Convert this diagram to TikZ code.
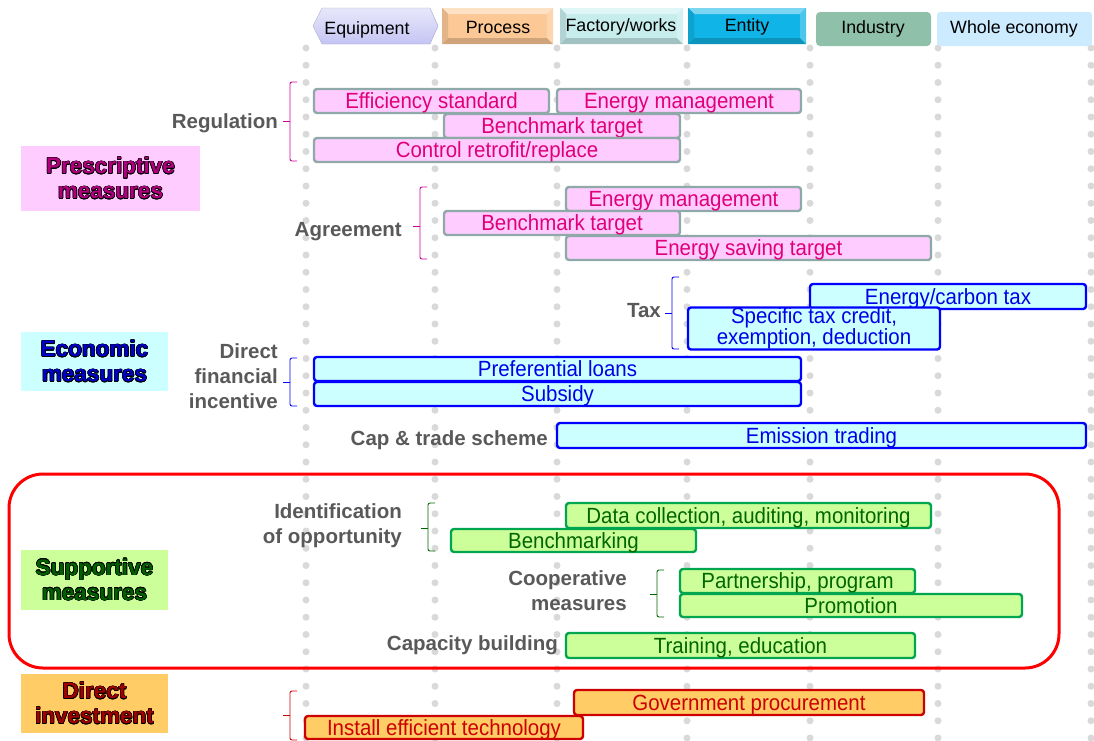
\documentclass[tikz,border=0pt]{standalone}
\usepackage{fontspec}
\setmainfont{Liberation Sans}
\newfontfamily\barfont{Liberation Sans}[FakeStretch=0.93]
\usepackage[copies]{contour}
\contourlength{0.6pt}
\usetikzlibrary{calc}
\definecolor{dotgray}{HTML}{D9D9D9}
\definecolor{labgray}{HTML}{595959}
\definecolor{pinkfill}{HTML}{FFCCFF}
\definecolor{pinkdraw}{HTML}{8FA9A9}
\definecolor{pinktext}{HTML}{E0007A}
\definecolor{bluefill}{HTML}{CCFFFF}
\definecolor{bluedraw}{HTML}{0000FF}
\definecolor{bluetext}{HTML}{0000E6}
\definecolor{greenfill}{HTML}{CCFF99}
\definecolor{greendraw}{HTML}{00A550}
\definecolor{greentext}{HTML}{006600}
\definecolor{orangefill}{HTML}{FFCC66}
\definecolor{orangedraw}{HTML}{CC0000}
\definecolor{orangetext}{HTML}{CC0000}
\definecolor{catmag}{HTML}{B0007E}
\definecolor{catblue}{HTML}{0000C8}
\definecolor{catgreen}{HTML}{006000}
\definecolor{catred}{HTML}{A00000}
\definecolor{lav}{HTML}{C4C4F4}
\definecolor{peach}{HTML}{FCC896}
\definecolor{paleteal}{HTML}{C6ECEC}
\definecolor{entcyan}{HTML}{10B4E6}
\definecolor{indgreen}{HTML}{8FC0A9}
\definecolor{wholeblue}{HTML}{CCEBFF}
\definecolor{bracemag}{HTML}{CC0099}
\definecolor{braceblue}{HTML}{0000FF}
\definecolor{bracegreen}{HTML}{006600}
\definecolor{bracered}{HTML}{CC0000}
\definecolor{redframe}{HTML}{FF0000}
\tikzset{
  barcore/.style={rectangle, rounded corners=3pt, line width=2.4pt, inner sep=0pt, align=center,
    font=\barfont\fontsize{22}{14}\selectfont},
  barbase/.style={barcore, text height=15.8pt, text depth=0pt},
  pinkbar/.style={barbase, fill=pinkfill, draw=pinkdraw, text=pinktext},
  bluebar/.style={barbase, fill=bluefill, draw=bluedraw, text=bluetext},
  bluebartwo/.style={barcore, fill=bluefill, draw=bluedraw, text=bluetext},
  greenbar/.style={barbase, fill=greenfill, draw=greendraw, text=greentext},
  orangebar/.style={barbase, fill=orangefill, draw=orangedraw, text=orangetext},
  lab/.style={font=\fontsize{20.5}{25}\selectfont\bfseries, text=labgray, align=right, anchor=east, inner sep=0pt},
  labone/.style={lab, text height=14.7pt, text depth=0pt},
  cat/.style={font=\fontsize{22.5}{25}\selectfont\bfseries, align=center, inner sep=0pt},
  hdr/.style={font=\fontsize{17.8}{18}\selectfont, text=black, inner sep=0pt},
  bracestyle/.style={line width=0.9pt, rounded corners=2pt},
}
% bar: name, x1, y1, x2, y2, style, text
\newcommand\mbar[7]{\node[#6, minimum width={(#4-#2)*1pt}, minimum height={(#5-#3)*1pt}] (#1) at ({(#2+#4)/2},{(#3+#5)/2}) {#7};}
% brace: x vertical, top y, bottom y, nub y, color
\newcommand\cbrace[5]{%
  \draw[bracestyle, #5] ({#1+7},#2) -- (#1,#2) -- (#1,#3) -- ({#1+7},#3);
  \draw[line width=0.9pt, #5] (#1,#4) -- ({#1-7},#4);}
% bevelled box: x1 y1 x2 y2 colour
\newcommand\bevbox[5]{%
  \fill[#5] (#1,#2) rectangle (#3,#4);
  \fill[#5!55!white] (#1,#2) -- (#3,#2) -- ({#3-6},{#2+6}) -- ({#1+6},{#2+6}) -- cycle;
  \fill[#5!82!black] (#1,#4) -- (#3,#4) -- ({#3-6},{#4-6}) -- ({#1+6},{#4-6}) -- cycle;
  \fill[#5!90!black] (#1,#2) -- ({#1+6},{#2+6}) -- ({#1+6},{#4-6}) -- (#1,#4) -- cycle;
  \fill[#5!75!white] (#3,#2) -- ({#3-6},{#2+6}) -- ({#3-6},{#4-6}) -- (#3,#4) -- cycle;}
\begin{document}
\begin{tikzpicture}[x=1pt, y=-1pt]
\useasboundingbox (0,0) rectangle (1094,740);
\fill[white] (0,0) rectangle (1094,740);
% dotted columns
\foreach \cx in {306,435,557,687,810,938,1091}
  \foreach \k in {0,...,40}
    \fill[dotgray] (\cx,{48+\k*17.25}) circle[radius=3.5pt];
% header boxes
\shade[top color=lav!40!white, bottom color=lav, draw=lav!85!black, line width=0.4pt]
  (313,26) -- (322,8) -- (430,8) -- (438,26) -- (430,44) -- (322,44) -- cycle;
\node[hdr] (hEquip) at (367,30) {Equipment};
\bevbox{442}{8}{553}{44}{peach}
\node[hdr] (hProc) at (498,27) {Process};
\bevbox{560}{8}{683}{44}{paleteal}
\node[hdr] (hFact) at (621,27) {Factory/works};
\bevbox{688}{8}{806}{44}{entcyan}
\node[hdr] (hEnt) at (747,27) {Entity};
\fill[indgreen, rounded corners=4pt] (816,12) rectangle (931,46);
\node[hdr] (hInd) at (873,29) {Industry};
\fill[wholeblue, rounded corners=3pt] (937,12) rectangle (1092,46);
\node[hdr] (hWhole) at (1014,29) {Whole economy};
% category boxes
\node[cat, fill=pinkfill, text=catmag, minimum width=179pt, minimum height=65pt] (cPres) at (110.5,178.5)
  {\contour{black}{Prescriptive}\\\contour{black}{measures}};
\node[cat, fill=bluefill, text=catblue, minimum width=147pt, minimum height=59pt] (cEco) at (94.5,361.5)
  {\contour{black}{Economic}\\\contour{black}{measures}};
\node[cat, fill=greenfill, text=catgreen, minimum width=147pt, minimum height=60pt] (cSup) at (94.5,580)
  {\contour{black}{Supportive}\\\contour{black}{measures}};
\node[cat, fill=orangefill, text=catred, minimum width=147pt, minimum height=59pt] (cDir) at (94.5,703.5)
  {\contour{black}{Direct}\\\contour{black}{investment}};
% red frame
\draw[redframe, line width=3pt, rounded corners=34pt] (9,474) rectangle (1059,668);
% labels
\node[labone] (lReg) at (278,121) {Regulation};
\node[labone] (lAgr) at (402,229) {Agreement};
\node[labone] (lTax) at (661,310) {Tax};
\node[lab] (lDfi) at (278,376) {Direct\\financial\\incentive};
\node[labone] (lCap) at (548,438) {Cap \& trade scheme};
\node[lab] (lIdo) at (402,526) {Identification\\of opportunity};
\node[lab] (lCoo) at (627,591) {Cooperative\\measures};
\node[labone] (lCab) at (558,643) {Capacity building};
% braces
\cbrace{290}{82}{161}{121}{bracemag}
\cbrace{420}{187}{259}{226}{bracemag}
\cbrace{672}{277}{349}{313}{braceblue}
\cbrace{290}{358}{406}{382}{braceblue}
\cbrace{428}{503}{551}{528}{bracegreen}
\cbrace{657}{570}{617}{594}{bracegreen}
\cbrace{290}{691}{740}{715}{bracered}
% bars
\mbar{r1}{314}{89}{549}{113}{pinkbar}{Efficiency standard}
\mbar{r2}{557}{89}{801}{113}{pinkbar}{Energy management}
\mbar{r3}{444}{114}{680}{138}{pinkbar}{Benchmark target}
\mbar{r4}{314}{138}{680}{162}{pinkbar}{Control retrofit/replace}
\mbar{a1}{566}{187}{801}{211}{pinkbar}{Energy management}
\mbar{a2}{444}{211}{680}{235}{pinkbar}{Benchmark target}
\mbar{a3}{566}{236}{931}{260}{pinkbar}{Energy saving target}
\mbar{t1}{810}{284}{1086}{309}{bluebar}{Energy/carbon tax}
\mbar{t2}{688}{309}{940}{348}{bluebartwo}{Specific tax credit,\\exemption, deduction}
\mbar{f1}{314}{357}{801}{381}{bluebar}{Preferential loans}
\mbar{f2}{314}{382}{801}{406}{bluebar}{Subsidy}
\mbar{e1}{557}{423}{1086}{448}{bluebar}{Emission trading}
\mbar{i1}{566}{503}{931}{528}{greenbar}{Data collection, auditing, monitoring}
\mbar{i2}{451}{529}{696}{552}{greenbar}{Benchmarking}
\mbar{c1}{680}{569}{915}{593}{greenbar}{Partnership, program}
\mbar{c2}{680}{594}{1022}{617}{greenbar}{Promotion}
\mbar{cb}{566}{633}{915}{658}{greenbar}{Training, education}
\mbar{d1}{574}{690}{924}{715}{orangebar}{Government procurement}
\mbar{d2}{305}{716}{583}{739}{orangebar}{Install efficient technology}
\end{tikzpicture}
\end{document}
